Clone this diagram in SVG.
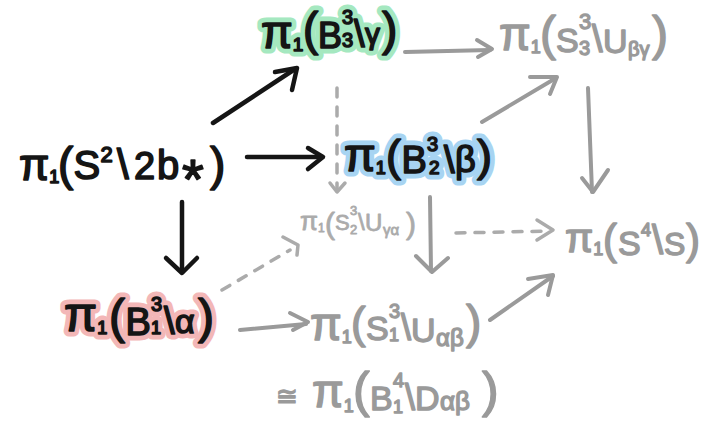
<svg xmlns="http://www.w3.org/2000/svg" xmlns:xlink="http://www.w3.org/1999/xlink" width="714" height="422" viewBox="0 0 714 422">
<style>
text{font-family:"Liberation Sans",Arial,sans-serif}
.ink{fill:#151515;stroke:#151515;stroke-width:1.6;stroke-linejoin:round}
.gr{fill:#9a9a9a;stroke:#9a9a9a;stroke-width:1.4;stroke-linejoin:round}
.lt{fill:#ababab;stroke:#ababab;stroke-width:0.8;stroke-linejoin:round}
.hl{stroke-width:11;stroke-linejoin:round;stroke-linecap:round}
.hg{fill:#a5e8c0;stroke:#a5e8c0}
.hb{fill:#a7d4f2;stroke:#a7d4f2}
.hp{fill:#f3b7b7;stroke:#f3b7b7}
.ca{fill:none;stroke:#151515;stroke-width:4.5;stroke-linecap:round;stroke-linejoin:round}
.cg{fill:none;stroke:#9a9a9a;stroke-width:4;stroke-linecap:round;stroke-linejoin:round}
.cd{fill:none;stroke:#ababab;stroke-width:3.5;stroke-linecap:round;stroke-dasharray:9 10}
.cdh{fill:none;stroke:#ababab;stroke-width:3.5;stroke-linecap:round;stroke-linejoin:round}
</style>
<rect width="714" height="422" fill="#ffffff"/>

<g id="connectors">
  <!-- A -> B -->
  <path class="ca" d="M213,123 L295,69"/>
  <path class="ca" d="M275,72 L297,68 L292,90"/>
  <!-- A -> C -->
  <path class="ca" d="M247,157 L322,157"/>
  <path class="ca" d="M308,148 L323,157 L308,169"/>
  <!-- A -> D -->
  <path class="ca" d="M182,202 L182,272"/>
  <path class="ca" d="M166,258 L182,273 L197,258"/>
  <!-- B -> E -->
  <path class="cg" d="M405,52 L490,50"/>
  <path class="cg" d="M477,40 L492,49 L478,57"/>
  <!-- C -> E -->
  <path class="cg" d="M482,122 L556,78"/>
  <path class="cg" d="M530,77 L557,77 L550,94"/>
  <!-- E -> G -->
  <path class="cg" d="M588,88 L592,192"/>
  <path class="cg" d="M582,178 L593,192 L608,170"/>
  <!-- B -> F (dashed) -->
  <path class="cd" d="M337,88 L337,188"/>
  <path class="cdh" d="M330,183 L337,192 L345,183"/>
  <!-- D -> F (dashed) -->
  <path class="cd" d="M222,290 L290,250"/>
  <path class="cdh" d="M283,237 L298,245 L297,255"/>
  <!-- C -> H -->
  <path class="cg" d="M430,197 L431,271"/>
  <path class="cg" d="M416,256 L432,272 L448,258"/>
  <!-- F -> G (dashed) -->
  <path class="cd" d="M456,233 L550,231"/>
  <path class="cdh" d="M537,220 L553,230 L537,240"/>
  <!-- D -> H -->
  <path class="cg" d="M240,330 L306,324"/>
  <path class="cg" d="M290,313 L308,322 L293,330"/>
  <!-- H -> G -->
  <path class="cg" d="M490,320 L553,276"/>
  <path class="cg" d="M528,279 L553,275 L548,295"/>
</g>

<g id="node-s2" class="ink">
  <text>
    <tspan x="19" y="180" font-size="44">π</tspan><tspan y="183" font-size="18">1</tspan><tspan x="58" y="180" font-size="46">(</tspan><tspan x="73.5" y="179" font-size="40">S</tspan><tspan x="100.5" y="162" font-size="22">2</tspan><tspan x="117" y="179" font-size="42">\</tspan><tspan x="134" y="179" font-size="38">2</tspan><tspan x="157" y="179" font-size="40">b</tspan><tspan x="182" y="198" font-size="56">*</tspan><tspan x="210" y="180" font-size="46">)</tspan>
  </text>
</g>

<g id="node-b3" class="ink">
  <use xlink:href="#t-b3" class="hl hg"/>
  <text id="t-b3">
    <tspan x="261" y="48" font-size="46">π</tspan><tspan y="51" font-size="19">1</tspan><tspan x="303" y="45" font-size="46">(</tspan><tspan x="318" y="48" font-size="36">B</tspan><tspan x="342" y="24" font-size="20">3</tspan><tspan x="342" y="47" font-size="20">3</tspan><tspan x="354" y="47" font-size="38">\</tspan><tspan x="365" y="44" font-size="30">γ</tspan><tspan x="382" y="45" font-size="46">)</tspan>
  </text>
</g>

<g id="node-b2" class="ink">
  <use xlink:href="#t-b2" class="hl hb"/>
  <text id="t-b2">
    <tspan x="344" y="171" font-size="46">π</tspan><tspan y="174" font-size="18">1</tspan><tspan x="386" y="171" font-size="45">(</tspan><tspan x="401.5" y="173" font-size="38">B</tspan><tspan x="427" y="151" font-size="20">3</tspan><tspan x="429" y="174" font-size="19">2</tspan><tspan x="444" y="173" font-size="38">\</tspan><tspan x="455" y="172" font-size="36">β</tspan><tspan x="477" y="171" font-size="45">)</tspan>
  </text>
</g>

<g id="node-b1" class="ink">
  <use xlink:href="#t-b1" class="hl hp"/>
  <text id="t-b1">
    <tspan x="64" y="331" font-size="48">π</tspan><tspan y="334" font-size="18">1</tspan><tspan x="109" y="333" font-size="48">(</tspan><tspan x="125.5" y="335" font-size="38">B</tspan><tspan x="151" y="311" font-size="20">3</tspan><tspan x="151" y="334" font-size="18">1</tspan><tspan x="164" y="334" font-size="38">\</tspan><tspan x="175" y="333" font-size="34">α</tspan><tspan x="198" y="333" font-size="48">)</tspan>
  </text>
</g>

<g id="node-s33" class="gr">
  <text>
    <tspan x="499" y="50" font-size="46">π</tspan><tspan y="53" font-size="18">1</tspan><tspan x="540" y="50" font-size="48">(</tspan><tspan x="556" y="52" font-size="34">S</tspan><tspan x="579" y="29" font-size="22">3</tspan><tspan x="579" y="55" font-size="20">3</tspan><tspan x="592" y="52" font-size="38">\</tspan><tspan x="603" y="53" font-size="34">U</tspan><tspan x="628" y="56" font-size="20">βγ</tspan><tspan x="652" y="50" font-size="48">)</tspan>
  </text>
</g>

<g id="node-s32" class="lt">
  <text>
    <tspan x="300" y="230" font-size="26">π</tspan><tspan y="232" font-size="12">1</tspan><tspan x="325" y="234" font-size="30">(</tspan><tspan x="335" y="230" font-size="22">S</tspan><tspan x="350" y="215" font-size="13">3</tspan><tspan x="350" y="234" font-size="13">2</tspan><tspan x="358" y="230" font-size="24">\</tspan><tspan x="365" y="231" font-size="24">U</tspan><tspan x="383" y="235" font-size="15">γα</tspan><tspan x="406" y="234" font-size="30">)</tspan>
  </text>
</g>

<g id="node-s4" class="gr">
  <text>
    <tspan x="565" y="252" font-size="41">π</tspan><tspan y="255" font-size="18">1</tspan><tspan x="603" y="254" font-size="42">(</tspan><tspan x="618" y="255" font-size="34">S</tspan><tspan x="641" y="236" font-size="18">4</tspan><tspan x="652" y="254" font-size="40">\</tspan><tspan x="664" y="255" font-size="32">S</tspan><tspan x="686" y="254" font-size="42">)</tspan>
  </text>
</g>

<g id="node-s31" class="gr">
  <text>
    <tspan x="310" y="340" font-size="46">π</tspan><tspan y="343" font-size="18">1</tspan><tspan x="351" y="338" font-size="44">(</tspan><tspan x="366" y="340" font-size="34">S</tspan><tspan x="389" y="318" font-size="20">3</tspan><tspan x="389" y="341" font-size="18">1</tspan><tspan x="401" y="340" font-size="36">\</tspan><tspan x="411" y="342" font-size="34">U</tspan><tspan x="436" y="346" font-size="24">αβ</tspan><tspan x="466" y="338" font-size="46">)</tspan>
  </text>
</g>

<g id="node-b4" class="gr">
  <text>
    <tspan x="276" y="405" font-size="26" font-family="DejaVu Sans, sans-serif">≅</tspan><tspan x="312" y="407" font-size="46">π</tspan><tspan y="412" font-size="18">1</tspan><tspan x="353" y="407" font-size="50">(</tspan><tspan x="370" y="410" font-size="34">B</tspan><tspan x="393" y="387" font-size="20">4</tspan><tspan x="393" y="413" font-size="18">1</tspan><tspan x="405" y="410" font-size="36">\</tspan><tspan x="415" y="410" font-size="34">D</tspan><tspan x="440" y="410" font-size="26">αβ</tspan><tspan x="482" y="407" font-size="50">)</tspan>
  </text>
</g>
</svg>
